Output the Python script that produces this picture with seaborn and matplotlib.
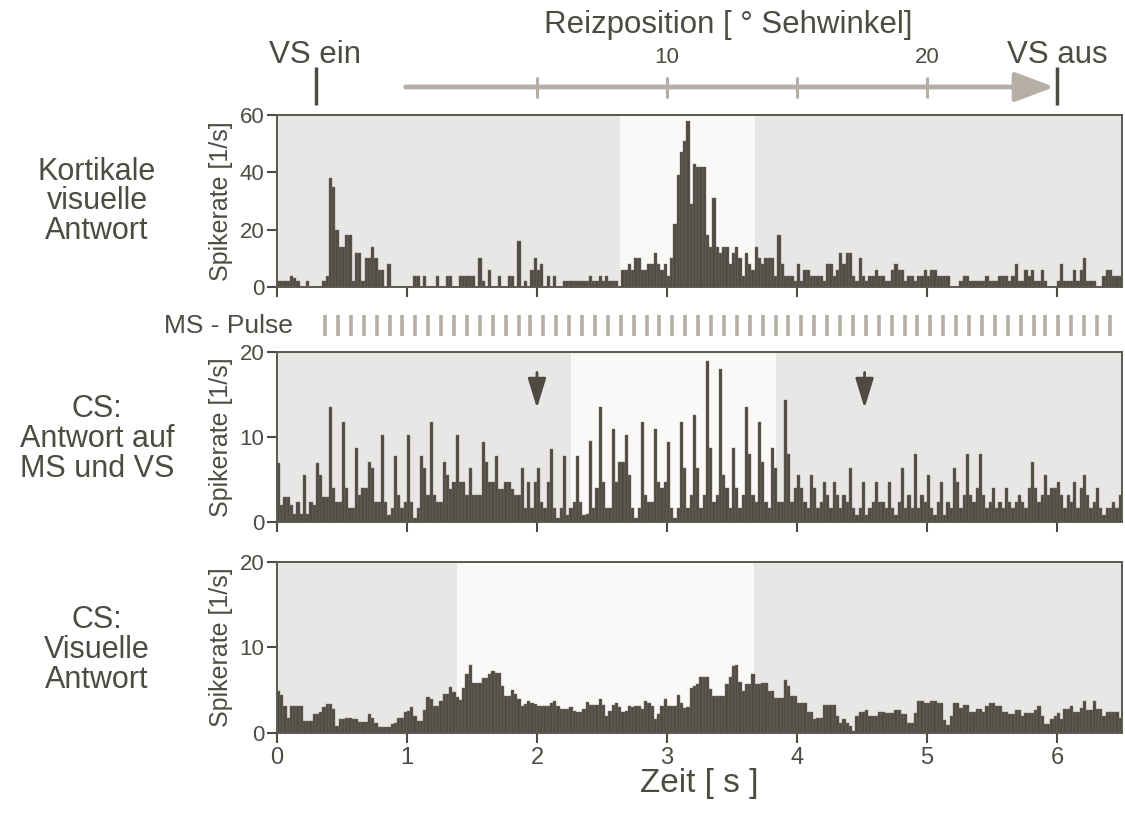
import numpy as np
import pandas as pd
import matplotlib
matplotlib.use("Agg")
import matplotlib.pyplot as plt
import seaborn as sns

# --- data (bin width 25 ms, 0 .. 6.5 s) ---
bin_width = 0.025
t_max = 6.5

cortex_rate = [
    2, 2, 2, 2, 4, 3, 2, 0, 0, 2, 0, 0, 0, 0, 2, 4, 38, 35, 20, 14,
    14, 18, 18, 2, 12, 12, 2, 10, 10, 14, 10, 6, 6, 0, 8, 0, 0, 0, 0, 0,
    0, 0, 4, 4, 0, 4, 0, 0, 0, 4, 0, 0, 4, 4, 0, 0, 4, 4, 4, 4,
    4, 0, 10, 2, 0, 6, 0, 0, 4, 0, 0, 4, 4, 0, 16, 0, 2, 0, 6, 10,
    6, 8, 0, 4, 0, 4, 0, 0, 2, 2, 2, 2, 2, 2, 2, 2, 4, 2, 2, 4,
    2, 4, 2, 2, 2, 0, 6, 6, 8, 6, 10, 10, 6, 6, 8, 8, 12, 8, 6, 8,
    4, 10, 22, 39, 47, 51, 58, 29, 43, 42, 42, 42, 18, 14, 31, 14, 12, 14, 14, 8,
    12, 14, 10, 4, 12, 8, 6, 14, 10, 8, 10, 10, 10, 4, 18, 8, 4, 4, 4, 2,
    8, 2, 6, 6, 4, 4, 4, 4, 2, 8, 8, 4, 6, 12, 8, 12, 12, 4, 2, 10,
    4, 2, 4, 4, 6, 4, 4, 2, 2, 6, 8, 6, 6, 2, 4, 4, 2, 4, 4, 6,
    4, 6, 6, 4, 4, 4, 4, 0, 0, 0, 2, 4, 4, 2, 2, 2, 2, 2, 4, 2,
    2, 2, 4, 4, 4, 2, 4, 8, 2, 2, 6, 4, 6, 2, 2, 6, 2, 0, 0, 0,
    2, 8, 2, 2, 2, 6, 2, 6, 10, 2, 2, 2, 0, 0, 4, 6, 6, 4, 4, 4,
]

cs_ms_vs_rate = [
    7, 2, 3, 3, 2, 1, 2.4, 1, 5.5, 1, 2.4, 2, 7, 5.5, 3, 3, 13.5, 4, 2.4, 2.4,
    11.8, 4, 1.6, 1.6, 8.7, 3.2, 4, 4, 7.1, 6.3, 2.4, 2.4, 10.2, 2.4, 0.8, 1.6, 7.8, 3.2, 1.6, 2.4,
    10.2, 2.4, 0.5, 1.6, 7.8, 6.4, 3.2, 11.8, 3.2, 2.4, 2.4, 7.1, 5.5, 3.9, 4.7, 10.2, 4.7, 4.7, 3.2, 6.3,
    3.2, 3.2, 3.2, 9.4, 7.1, 4.7, 4.7, 7.8, 3.9, 3.9, 4.7, 4.7, 3.9, 3.2, 3.2, 6.3, 1.6, 4.7, 1.6, 4.7,
    6.3, 2.4, 1.6, 4.7, 8.6, 1.6, 0.5, 1.6, 7.8, 0.8, 1.6, 2.4, 7.8, 2.4, 0.8, 1, 9.5, 1.6, 4, 13.5,
    4.7, 1.6, 1.6, 11, 4.7, 7.1, 7.1, 10.2, 5.5, 1.6, 0.5, 1.6, 11.8, 3.2, 2.4, 2.4, 11, 4.7, 4, 4.7,
    9.4, 1.6, 0.5, 1.6, 11.8, 6.3, 1.6, 3.2, 12.6, 6.3, 1.6, 3.2, 19, 8.7, 2.4, 3.2, 18, 5.5, 4, 1.6,
    8.7, 4, 1.6, 3.2, 13.5, 8, 3.2, 2.4, 11.8, 7.1, 2.4, 1.6, 8.7, 6.3, 2.4, 2.4, 14.3, 8, 2.4, 4,
    5.5, 4, 2.4, 1.6, 5.5, 4, 1.6, 2.4, 4.7, 3.2, 1.6, 4.7, 3.2, 1.6, 3.2, 2.4, 6.3, 1.6, 0.8, 1.6,
    4.7, 0.8, 1.6, 2.4, 4.7, 2.4, 2.4, 1.6, 4.7, 1.6, 0.8, 2.4, 6.3, 1.6, 3.2, 1.6, 8, 1.6, 3.2, 2.4,
    5.5, 1.6, 0.8, 2.4, 4.7, 0.8, 2.4, 1.6, 6.3, 4.7, 1.6, 3.2, 8, 3.2, 2.4, 4, 8, 3.2, 1.6, 2.4,
    4, 1.6, 2.4, 1.6, 4, 2.4, 1.6, 2.4, 3.2, 2.4, 1.6, 4, 7.1, 4, 2.4, 3.2, 5.5, 3.2, 4, 4,
    4.7, 3.2, 1.6, 3.2, 2.4, 4.7, 1.6, 4, 5.5, 3.2, 1.6, 2.4, 4, 1.6, 0.8, 1.6, 1.6, 2.4, 1.6, 3.2,
]

cs_visual_rate = [
    4.9, 4.5, 3.1, 1.8, 3.2, 3.2, 3.2, 3.2, 1.4, 1.4, 1.4, 2.2, 2.2, 2.5, 3, 3.4, 3.4, 2.8, 0.8, 1.6,
    1.6, 1.8, 1.8, 1.6, 1.6, 1.3, 1.3, 1.3, 2.2, 1.8, 1.2, 0.7, 0.7, 0.7, 0.7, 1, 1.2, 1.8, 1.8, 2.4,
    2.6, 3, 2, 1.4, 1.4, 2.7, 4.2, 4, 3.2, 3.2, 3.7, 4.6, 4.6, 5.4, 4.8, 4.2, 3.9, 5.3, 6.9, 8,
    5.9, 5.9, 5.9, 6.4, 6.4, 6.9, 7.3, 7, 7, 5.5, 4.3, 4.3, 5, 4.6, 4, 3.2, 3.4, 3.7, 3.5, 3.4,
    3.2, 3.2, 3.2, 3.2, 3.5, 3.7, 3.2, 2.8, 2.8, 2.8, 3, 2.6, 2.4, 2.5, 2.8, 3.6, 3.3, 3.3, 3.3, 4,
    3.3, 2, 2.6, 3.3, 3.5, 3, 2.5, 2.6, 3.1, 3, 3.1, 3.1, 2.8, 3.8, 3.5, 3.1, 1.6, 2.2, 3.2, 4,
    3.2, 3.2, 3.2, 4.5, 3.5, 2.9, 3, 5.3, 5.5, 5.7, 6.5, 6.5, 6.5, 5.2, 4.3, 4.3, 4.3, 4.3, 5.7, 6.5,
    7.8, 8, 6, 4.9, 5.7, 5.7, 6.9, 5.7, 5.7, 5.9, 5.9, 4.9, 4.9, 4.1, 4.1, 4.1, 6.2, 5.5, 4.3, 4.3,
    3.5, 3.5, 3.5, 2.5, 2.5, 1.6, 1.8, 1.8, 3.3, 3.3, 3.3, 3.3, 2, 1.2, 1.6, 1.2, 0.8, 0.2, 2, 2.5,
    2.5, 2.7, 2, 2, 2, 2.4, 2.4, 2.3, 2.3, 2.3, 2.7, 2.7, 2.2, 2.2, 1.2, 1.2, 2.3, 3.8, 3.8, 3.5,
    3.5, 3.8, 3.8, 3.5, 3.5, 1.5, 0.9, 2, 3.5, 3.5, 2.9, 3.3, 3.3, 2.5, 2.5, 2.8, 2.8, 2.5, 3.1, 3.5,
    3.5, 3.2, 3.2, 2.4, 2.4, 2.2, 2.2, 2.7, 2.7, 2, 2.3, 2.3, 2.3, 2.7, 3.1, 2, 1, 1, 1.6, 2,
    2.3, 1.6, 2.8, 2.8, 3.1, 2.5, 2.5, 2.9, 3.8, 2.7, 2.7, 3.8, 2.8, 2.8, 2, 2.5, 2.5, 2.5, 2.5, 1.8,
]

ms_pulse_times = [
    0.37, 0.47, 0.57, 0.67, 0.77, 0.87, 0.96, 1.06, 1.16, 1.26, 1.36, 1.46, 1.56, 1.66, 1.76, 1.86,
    1.95, 2.05, 2.15, 2.25, 2.35, 2.45, 2.55, 2.65, 2.75, 2.85, 2.94, 3.04, 3.14, 3.24, 3.34, 3.44,
    3.54, 3.64, 3.74, 3.84, 3.93, 4.03, 4.13, 4.23, 4.33, 4.43, 4.53, 4.63, 4.73, 4.83, 4.92, 5.02,
    5.12, 5.22, 5.32, 5.42, 5.52, 5.62, 5.72, 5.82, 5.91, 6.01, 6.11, 6.21, 6.31, 6.41,
]

# light "stimulus in receptive field" windows per panel
highlight_windows = [(2.64, 3.675), (2.265, 3.836), (1.388, 3.667)]
arrow_times = [2.0, 4.52]
stim_ticks = [2, 3, 4, 5]
stim_labels = {3: "10", 5: "20"}
vs_on, vs_off = 0.3, 6.0
stim_start, stim_end = 0.99, 5.98

panel_titles = ["Kortikale\nvisuelle\nAntwort", "CS:\nAntwort auf\nMS und VS", "CS:\nVisuelle\nAntwort"]
y_limits = [60, 20, 20]
y_ticks = [[0, 20, 40, 60], [0, 10, 20], [0, 10, 20]]
x_ticks = [0, 1, 2, 3, 4, 5, 6]

# --- style ---
ink = "#4e4b43"
bar_color = "#4f4c44"
bg_color = "#e8e7e5"
hl_color = "#faf9f7"
stim_color = "#b4aea4"

sns.set_style("white")
plt.rcParams["font.family"] = ["Liberation Sans", "DejaVu Sans"]
plt.rcParams["text.color"] = ink
plt.rcParams["axes.labelcolor"] = ink
plt.rcParams["xtick.color"] = ink
plt.rcParams["ytick.color"] = ink

fig = plt.figure(figsize=(11.25, 8.14), dpi=100)
positions = [
    [0.2462, 0.6474, 0.7511, 0.2113],
    [0.2462, 0.3587, 0.7511, 0.2088],
    [0.2462, 0.0995, 0.7511, 0.2101],
]
label_y = [0.753, 0.4607, 0.2015]
rates = [cortex_rate, cs_ms_vs_rate, cs_visual_rate]

n_bins = len(cortex_rate)
bin_centers = (np.arange(n_bins) + 0.5) * bin_width

axes = []
for i, pos in enumerate(positions):
    ax = fig.add_axes(pos)
    ax.set_facecolor(bg_color)
    ax.axvspan(*highlight_windows[i], color=hl_color, lw=0, zorder=0)
    df = pd.DataFrame({"t": bin_centers, "rate": rates[i]})
    sns.histplot(data=df, x="t", weights="rate", binwidth=bin_width,
                 binrange=(0, t_max), ax=ax, color=bar_color, alpha=1,
                 edgecolor="#76726a", linewidth=0.3, zorder=2)
    ax.set_xlim(0, t_max)
    ax.set_ylim(0, y_limits[i])
    ax.set_yticks(y_ticks[i])
    ax.set_xticks(x_ticks)
    ax.tick_params(axis="both", direction="out", length=7, width=1.5,
                   labelsize=16, pad=2, bottom=True, left=True)
    if i < 2:
        ax.set_xticklabels([])
    else:
        ax.tick_params(axis="x", labelsize=17, pad=3)
    for sp in ax.spines.values():
        sp.set_color("#5b5850")
        sp.set_linewidth(1.4)
    ax.set_ylabel("Spikerate [1/s]", fontsize=18)
    ax.yaxis.set_label_coords(-0.052, 0.5)
    ax.set_xlabel("")
    fig.text(0.0862, label_y[i], panel_titles[i], ha="center", va="center",
             fontsize=22, linespacing=0.98)
    axes.append(ax)

ax1, ax2, ax3 = axes
ax3.set_xlabel("Zeit [ s ]", fontsize=24)
ax3.xaxis.set_label_coords(0.5, -0.205)

# --- stimulus annotation above top panel ---
tr = ax1.get_xaxis_transform()
ax1.annotate("", xy=(stim_end, 1.163), xytext=(stim_start, 1.163), xycoords=tr,
             textcoords=tr, annotation_clip=False,
             arrowprops=dict(arrowstyle="-|>,head_length=1.2,head_width=0.45",
                             color=stim_color, lw=3.5, mutation_scale=20,
                             shrinkA=0, shrinkB=0))
ax1.vlines(stim_ticks, 1.099, 1.221, transform=tr, color=stim_color, lw=2.2, clip_on=False)
for t, lab in stim_labels.items():
    ax1.text(t, 1.302, lab, transform=tr, ha="center", va="baseline", fontsize=16)
ax1.vlines([vs_on, vs_off], 1.058, 1.279, transform=tr, color=ink, lw=2.5, clip_on=False)
ax1.text(0.294, 1.302, "VS ein", transform=tr, ha="center", va="baseline", fontsize=22.5)
ax1.text(vs_off, 1.302, "VS aus", transform=tr, ha="center", va="baseline", fontsize=22.5)
ax1.text(3.47, 1.477, "Reizposition [ ° Sehwinkel]", transform=tr, ha="center",
         va="baseline", fontsize=22.5)

# --- MS pulse train between panel 1 and 2 ---
tr2 = ax2.get_xaxis_transform()
ax2.vlines(ms_pulse_times, 1.094, 1.218, transform=tr2, color=stim_color, lw=2.6, clip_on=False)
ax2.text(0.12, 1.156, "MS - Pulse", transform=tr2, ha="right", va="center", fontsize=19)

# --- arrows marking the MS-only response ---
for t in arrow_times:
    ax2.annotate("", xy=(t, 13.4), xytext=(t, 17.6),
                 arrowprops=dict(arrowstyle="-|>,head_length=1.3,head_width=0.4",
                                 color=ink, lw=2, mutation_scale=14,
                                 shrinkA=0, shrinkB=0), zorder=3)

fig.savefig("out.png", dpi=100)
